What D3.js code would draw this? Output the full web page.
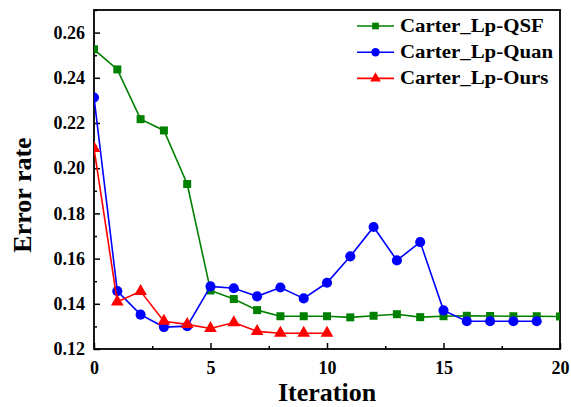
<!DOCTYPE html>
<meta charset="utf-8">
<script src="https://d3js.org/d3.v7.min.js"></script>
<style>
  body { margin: 0; background: #fff; }
  text { font-family: "Liberation Serif", "Times New Roman", serif; font-weight: bold; }
</style>
<div id="chart"></div>
<script>
  // data
  var iterQSF = d3.range(0, 21);
  var qsf = [0.2526, 0.2437, 0.2217, 0.2167, 0.1930, 0.1459, 0.1421, 0.1372, 0.1345, 0.1345,
             0.1345, 0.1340, 0.1347, 0.1354, 0.1341, 0.1345, 0.1347, 0.1346, 0.1345, 0.1345, 0.1344];
  var iterQuan = d3.range(0, 20);
  var quan = [0.2313, 0.1456, 0.1352, 0.1297, 0.1301, 0.1477, 0.1469, 0.1433, 0.1472, 0.1424,
              0.1493, 0.1610, 0.1740, 0.1592, 0.1673, 0.1371, 0.1323, 0.1323, 0.1323, 0.1323];
  var iterOurs = d3.range(0, 11);
  var ours = [0.2088, 0.1409, 0.1455, 0.1323, 0.1309, 0.1291, 0.1317, 0.1278, 0.1270, 0.1270, 0.1270];

  var seriesNames = ["Carter_Lp-QSF", "Carter_Lp-Quan", "Carter_Lp-Ours"];
  var seriesColors = ["#008000", "#0000ff", "#ff0000"];
  var seriesSymbols = [d3.symbolSquare, d3.symbolCircle, d3.symbolTriangle];
  var xTicks = [0, 5, 10, 15, 20];
  var yTicks = [0.12, 0.14, 0.16, 0.18, 0.20, 0.22, 0.24, 0.26];

  var W = 571, H = 407;
  var margin = {top: 10, right: 11, bottom: 58, left: 94};
  var width = W - margin.left - margin.right,
      height = H - margin.top - margin.bottom;

  var svg = d3.select("#chart").append("svg")
      .attr("width", W)
      .attr("height", H);

  var g = svg.append("g")
      .attr("transform", "translate(" + margin.left + "," + margin.top + ")");

  var x = d3.scaleLinear().domain([0, 20]).range([0, width]);
  var y = d3.scaleLinear().domain([0.12, 0.27]).range([height, 0]);

  svg.append("defs").append("clipPath").attr("id", "clip")
    .append("rect").attr("width", width).attr("height", height);

  // minor ticks first, then major ticks on top
  g.append("g")
      .attr("transform", "translate(0," + height + ")")
      .call(d3.axisBottom(x).tickValues(d3.range(2.5, 20, 5)).tickSize(-3).tickFormat(""))
      .call(function(a) { a.select(".domain").remove(); a.selectAll("line").attr("stroke-width", 1.5); });
  g.append("g")
      .call(d3.axisLeft(y).tickValues(d3.range(0.13, 0.27, 0.02)).tickSize(-3).tickFormat(""))
      .call(function(a) { a.select(".domain").remove(); a.selectAll("line").attr("stroke-width", 1.5); });

  g.append("g")
      .attr("transform", "translate(0," + height + ")")
      .call(d3.axisBottom(x).tickValues(xTicks).tickSize(-6).tickPadding(12).tickFormat(d3.format("d")))
      .call(function(a) {
        a.select(".domain").remove();
        a.selectAll("line").attr("stroke-width", 1.5);
        a.selectAll("text").attr("font-size", 18).attr("fill", "#000")
          .attr("font-family", "Liberation Serif").attr("font-weight", "bold");
      });

  g.append("g")
      .call(d3.axisLeft(y).tickValues(yTicks).tickSize(-6).tickPadding(9).tickFormat(d3.format(".2f")))
      .call(function(a) {
        a.select(".domain").remove();
        a.selectAll("line").attr("stroke-width", 1.5);
        a.selectAll("text").attr("font-size", 18).attr("fill", "#000")
          .attr("font-family", "Liberation Serif").attr("font-weight", "bold");
      });

  // frame
  g.append("rect")
      .attr("width", width).attr("height", height)
      .attr("fill", "none").attr("stroke", "#000").attr("stroke-width", 1.8);

  var series = [
    {xs: iterQSF, ys: qsf},
    {xs: iterQuan, ys: quan},
    {xs: iterOurs, ys: ours}
  ];

  var plot = g.append("g").attr("clip-path", "url(#clip)");
  var line = d3.line().x(function(d) { return x(d[0]); }).y(function(d) { return y(d[1]); });
  var symSizes = [64, 80, 70];

  series.forEach(function(s, i) {
    var pts = s.xs.map(function(v, k) { return [v, s.ys[k]]; });
    plot.append("path")
        .datum(pts)
        .attr("fill", "none")
        .attr("stroke", seriesColors[i])
        .attr("stroke-width", 1.6)
        .attr("d", line);
    plot.selectAll(".m" + i)
        .data(pts)
        .join("path")
        .attr("class", "m" + i)
        .attr("transform", function(d) { return "translate(" + x(d[0]) + "," + y(d[1]) + ")"; })
        .attr("d", d3.symbol().type(seriesSymbols[i]).size(symSizes[i]))
        .attr("fill", seriesColors[i]);
  });

  // legend
  var legend = svg.append("g");
  seriesNames.forEach(function(name, i) {
    var ly = 26 + i * 26.2;
    legend.append("line")
        .attr("x1", 357).attr("x2", 394).attr("y1", ly).attr("y2", ly)
        .attr("stroke", seriesColors[i]).attr("stroke-width", 1.6);
    legend.append("path")
        .attr("transform", "translate(375.5," + ly + ")")
        .attr("d", d3.symbol().type(seriesSymbols[i]).size(symSizes[i] * 0.7))
        .attr("fill", seriesColors[i]);
    legend.append("text")
        .attr("transform", "translate(400," + (ly + 6) + ") scale(1.16,1)")
        .attr("font-size", 18)
        .text(name);
  });

  // axis titles
  svg.append("text")
      .attr("x", margin.left + width / 2).attr("y", 401)
      .attr("text-anchor", "middle")
      .attr("font-size", 26)
      .text("Iteration");

  svg.append("text")
      .attr("transform", "translate(31,195) rotate(-90)")
      .attr("text-anchor", "middle")
      .attr("font-size", 26)
      .text("Error rate");
</script>
